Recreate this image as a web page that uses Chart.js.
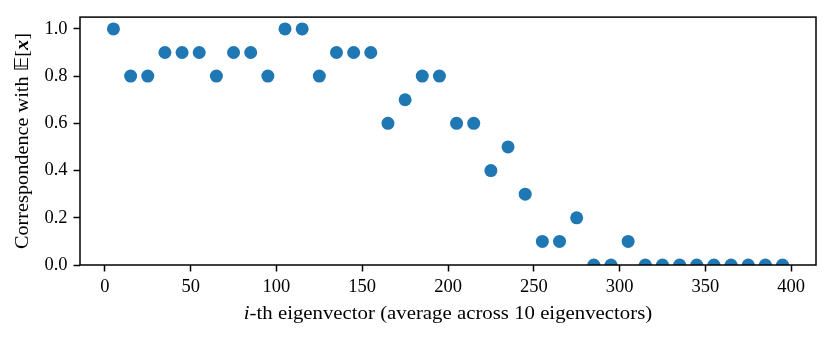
<!DOCTYPE html>
<html>
<head>
<meta charset="utf-8">
<script src="https://cdn.jsdelivr.net/npm/chart.js"></script>
<style>
  html, body { margin: 0; padding: 0; background: #fff; }
  #wrap { width: 830px; height: 338px; }
</style>
</head>
<body>
<div id="wrap"><canvas id="chart" width="830" height="338"></canvas></div>
<script>
// eigenvector index (centre of each group of 10)
const eigIndex = [5, 15, 25, 35, 45, 55, 65, 75, 85, 95,
                  105, 115, 125, 135, 145, 155, 165, 175, 185, 195,
                  205, 215, 225, 235, 245, 255, 265, 275, 285, 295,
                  305, 315, 325, 335, 345, 355, 365, 375, 385, 395];
// correspondence with E[x]
const correspondence = [1.0, 0.8, 0.8, 0.9, 0.9, 0.9, 0.8, 0.9, 0.9, 0.8,
                        1.0, 1.0, 0.8, 0.9, 0.9, 0.9, 0.6, 0.7, 0.8, 0.8,
                        0.6, 0.6, 0.4, 0.5, 0.3, 0.1, 0.1, 0.2, 0.0, 0.0,
                        0.1, 0.0, 0.0, 0.0, 0.0, 0.0, 0.0, 0.0, 0.0, 0.0];
const xTicks = [0, 50, 100, 150, 200, 250, 300, 350, 400];
const yTicks = [0.0, 0.2, 0.4, 0.6, 0.8, 1.0];

const FONT = '"Liberation Serif", "DejaVu Serif", serif';
const FONT_SIZE = 18.5;
const TITLE_SIZE = 19;

// axis titles with mixed styles (italic i, blackboard E, bold italic x)
const xTitle = [
    { text: 'i', style: 'italic' },
    { text: '-th eigenvector (average across 10 eigenvectors)', style: '' }
];
const yTitle = [
    { text: 'Correspondence with ', style: '' },
    { text: '\u{1D53C}', style: '', family: '"DejaVu Sans", "DejaVu Serif", serif' },
    { text: '[', style: '' },
    { text: 'x', style: 'italic bold' },
    { text: ']', style: '' }
];

// times font is narrower than the original, stretch a bit
function drawRich(ctx, parts, cx, cy, rotate, stretch) {
    ctx.save();
    ctx.translate(cx, cy);
    if (rotate) ctx.rotate(-Math.PI / 2);
    ctx.scale(stretch, 1);
    ctx.fillStyle = '#000';
    ctx.textBaseline = 'alphabetic';
    ctx.textAlign = 'left';
    let total = 0;
    const widths = parts.map(p => {
        ctx.font = `${p.style} ${TITLE_SIZE}px ${p.family || FONT}`;
        const w = ctx.measureText(p.text).width;
        total += w;
        return w;
    });
    let x = -total / 2;
    parts.forEach((p, i) => {
        ctx.font = `${p.style} ${TITLE_SIZE}px ${p.family || FONT}`;
        ctx.fillText(p.text, x, 0);
        x += widths[i];
    });
    ctx.restore();
}

const framePlugin = {
    id: 'frame',
    afterDatasetsDraw(chart) {
        const { ctx, chartArea: a } = chart;
        ctx.save();
        ctx.strokeStyle = '#000';
        ctx.lineWidth = 1.5;
        ctx.strokeRect(a.left, a.top, a.right - a.left, a.bottom - a.top);
        ctx.restore();
    },
    afterDraw(chart) {
        const { ctx, chartArea: a } = chart;
        drawRich(ctx, xTitle, (a.left + a.right) / 2, 319, false, 1.095);
        drawRich(ctx, yTitle, 28, (a.top + a.bottom) / 2, true, 1.065);
    }
};

new Chart(document.getElementById('chart'), {
    type: 'scatter',
    data: {
        datasets: [{
            data: eigIndex.map((x, i) => ({ x: x, y: correspondence[i] })),
            backgroundColor: '#1f77b4',
            borderWidth: 0,
            pointRadius: 6.5,
            pointHoverRadius: 6.5,
            clip: 0
        }]
    },
    options: {
        responsive: false,
        animation: false,
        events: [],
        layout: { padding: { left: 0, right: 14, top: 14, bottom: 0 } },
        plugins: {
            legend: { display: false },
            tooltip: { enabled: false }
        },
        scales: {
            x: {
                type: 'linear',
                min: -14.5,
                max: 414.5,
                afterFit: s => { s.height = 73; },
                afterBuildTicks: s => { s.ticks = xTicks.map(v => ({ value: v })); },
                border: { display: false },
                grid: {
                    drawOnChartArea: false,
                    drawTicks: true,
                    tickLength: 6.5,
                    tickWidth: 1.5,
                    tickColor: '#000'
                },
                ticks: {
                    color: '#000',
                    padding: 5,
                    maxRotation: 0,
                    autoSkip: false,
                    font: { family: FONT, size: FONT_SIZE },
                    callback: v => String(v)
                }
            },
            y: {
                type: 'linear',
                min: 0,
                max: 1.05,
                afterFit: s => { s.width = 80; },
                afterBuildTicks: s => { s.ticks = yTicks.map(v => ({ value: v })); },
                border: { display: false },
                grid: {
                    drawOnChartArea: false,
                    drawTicks: true,
                    tickLength: 6.5,
                    tickWidth: 1.5,
                    tickColor: '#000'
                },
                ticks: {
                    color: '#000',
                    padding: 6,
                    autoSkip: false,
                    font: { family: FONT, size: FONT_SIZE },
                    callback: v => v.toFixed(1)
                }
            }
        }
    },
    plugins: [framePlugin]
});
</script>
</body>
</html>
